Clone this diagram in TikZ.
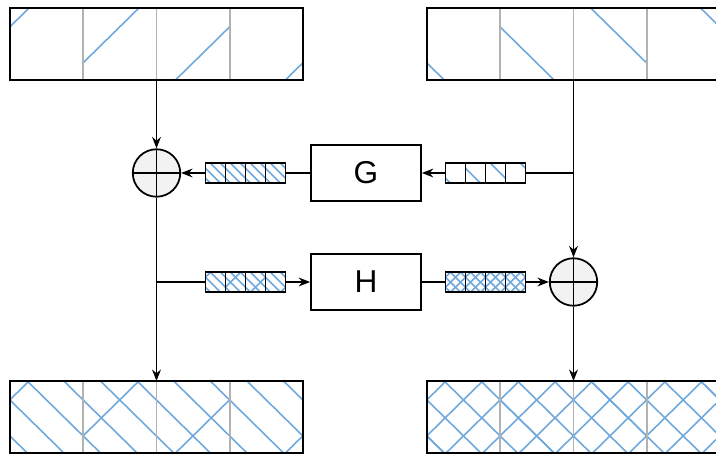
\documentclass[tikz,border=0pt]{standalone}
\usepackage{fontspec}
\setmainfont{Liberation Sans}
\usepackage{tikz}
\usetikzlibrary{arrows.meta,backgrounds}
\definecolor{hatchblue}{RGB}{111,168,220}

% one rising stroke per cell
\newcommand{\hatchM}{\foreach \k in {0,...,3}{\begin{scope}\clip (\k,0) rectangle ++(1,1); \draw[hatch] ({1.5*\k-0.74},0) -- ++(1,1);\end{scope}}}
% one falling stroke per cell
\newcommand{\hatchR}{\foreach \k in {0,...,3}{\begin{scope}\clip (\k,0) rectangle ++(1,1); \draw[hatch] ({1.5*\k+0.235},0) -- ++(-1,1);\end{scope}}}
% dense falling strokes
\newcommand{\hatchG}{\begin{scope}\clip (0,0) rectangle (4,1); \foreach \j in {0,...,9} \draw[hatch] ({0.5*\j+0.235},0) -- ++(-1,1);\end{scope}}
% dense cross
\newcommand{\hatchH}{\hatchG\begin{scope}\clip (0,0) rectangle (4,1); \foreach \j in {0,...,9} \draw[hatch] ({0.5*\j-0.74},0) -- ++(1,1);\end{scope}}
\newcommand{\cellsep}[1]{\foreach \k in {1,2,3} \draw[#1] (\k,0) -- (\k,1);}

\begin{document}
\begin{tikzpicture}[
    x=0.02cm, y=-0.02cm, line width=1pt,
    >={Stealth[length=6.5pt,width=5pt]},
    bigword/.style={draw, line width=1.2pt, minimum width=5.86cm, minimum height=1.44cm, inner sep=0pt, outer sep=0pt},
    smallword/.style={draw, minimum width=1.6cm, minimum height=0.4cm, inner sep=0pt, outer sep=0pt},
    func/.style={draw, minimum width=2.2cm, minimum height=1.12cm, font=\fontsize{18}{20}\selectfont},
    xorop/.style={circle, draw, fill=gray!10, minimum size=0.95cm, inner sep=0pt,
        path picture={\draw (path picture bounding box.north) -- (path picture bounding box.south)
                            (path picture bounding box.west) -- (path picture bounding box.east);}},
    hatch/.style={hatchblue, line width=0.9pt},
    divider/.style={black!30, line width=0.9pt},
    bigcells/.style={shift={(#1.south west)}, x=1.465cm, y=1.44cm},
    smallcells/.style={shift={(#1.south west)}, x=0.4cm, y=0.4cm}
]
\useasboundingbox (0,0) rectangle (716,455);
\clip (0,0) rectangle (716,455);

% Input words
\node[bigword] (m) at (156.5,44) {};
\node[bigword] (r) at (573.5,44) {};

% Output words
\node[bigword] (X) at (156.5,417) {};
\node[bigword] (Y) at (573.5,417) {};

% Round functions
\node[func] (G) at (366,173) {G};
\node[func] (H) at (366,282) {H};

% XOR
\node[xorop] (xorL) at (156.5,173) {};
\node[xorop] (xorR) at (573.5,282) {};

% Small registers
\node[smallword] (gout) at (245.5,173) {};
\node[smallword] (gin) at (485.5,173) {};
\node[smallword] (hin) at (245.5,282) {};
\node[smallword] (hout) at (485.5,282) {};

% Hatching
\begin{scope}[on background layer]
\begin{scope}[bigcells=m] \hatchM \cellsep{divider} \end{scope}
\begin{scope}[bigcells=r] \hatchR \cellsep{divider} \end{scope}
\begin{scope}[bigcells=X] \hatchM \hatchG \cellsep{divider} \end{scope}
\begin{scope}[bigcells=Y] \hatchR \hatchH \cellsep{divider} \end{scope}
\begin{scope}[smallcells=gin] \hatchR \end{scope}
\begin{scope}[smallcells=gout] \hatchG \end{scope}
\begin{scope}[smallcells=hin] \hatchM \hatchG \end{scope}
\begin{scope}[smallcells=hout] \hatchH \end{scope}
\end{scope}
\begin{scope}[smallcells=gin] \cellsep{black} \end{scope}
\begin{scope}[smallcells=gout] \cellsep{black} \end{scope}
\begin{scope}[smallcells=hin] \cellsep{black} \end{scope}
\begin{scope}[smallcells=hout] \cellsep{black} \end{scope}

% Connections
\draw[->] (m) -- (xorL);
\draw[->] (xorL) -- (X);
\draw[->] (r) -- (xorR);
\draw[->] (xorR) -- (Y);
\draw (r |- gin) -- (gin);
\draw[->] (gin) -- (G);
\draw (G) -- (gout);
\draw[->] (gout) -- (xorL);
\draw (xorL |- hin) -- (hin);
\draw[->] (hin) -- (H);
\draw (H) -- (hout);
\draw[->] (hout) -- (xorR);

\end{tikzpicture}
\end{document}
